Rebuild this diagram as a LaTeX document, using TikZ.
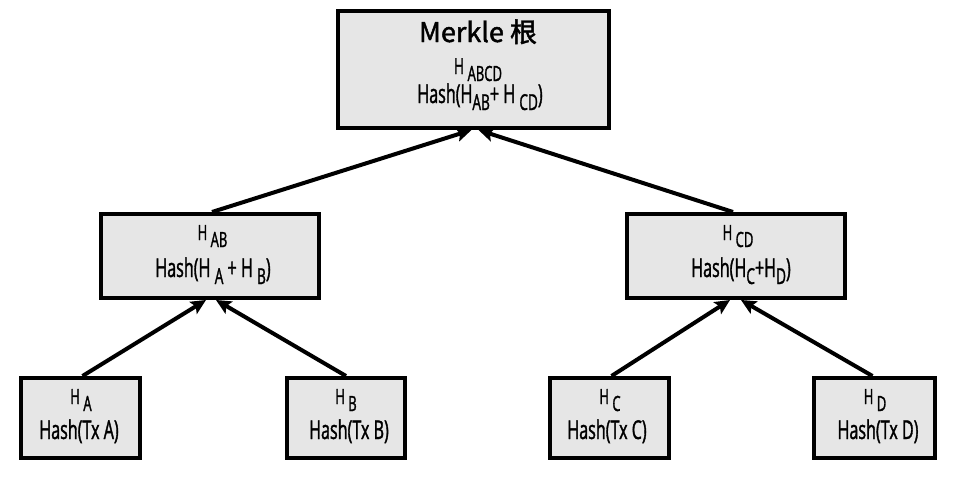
\documentclass[tikz,border=0pt]{standalone}
\usepackage{fontspec}
\setmainfont{Open Sans}[FakeStretch=0.62,FakeBold=1.3]
\newfontfamily\cjk{Noto Sans CJK SC}[FakeBold=1.6]
\usetikzlibrary{arrows.meta}
\definecolor{boxgray}{RGB}{230,230,230}
\newcommand{\sbs}[1]{\raisebox{-7pt}{\fontsize{21}{23}\selectfont #1}}
\newcommand{\sbt}[1]{\raisebox{-7pt}{\fontsize{22}{24}\selectfont #1}}
\tikzset{
  hbox/.style={draw, line width=4pt, fill=boxgray, inner sep=0pt},
  arr/.style={line width=4pt, -{Stealth[length=15pt,width=14pt,inset=3pt]}},
  lone/.style={anchor=base, inner sep=0pt, font=\fontsize{21}{23}\selectfont},
  ltwo/.style={anchor=base, inner sep=0pt, font=\fontsize{26}{28}\selectfont},
}
\begin{document}
\begin{tikzpicture}[x=1pt,y=-1pt]
\useasboundingbox (0,0) rectangle (956,479);
% boxes
\node[hbox, minimum width=271pt, minimum height=117pt] (root) at (473.5,69.5) {};
\node[hbox, minimum width=218pt, minimum height=84pt] (AB) at (210,256) {};
\node[hbox, minimum width=218pt, minimum height=84pt] (CD) at (736,256) {};
\node[hbox, minimum width=119pt, minimum height=80pt] (HA) at (80.5,418) {};
\node[hbox, minimum width=118pt, minimum height=80pt] (HB) at (346,418) {};
\node[hbox, minimum width=119pt, minimum height=80pt] (HC) at (609.5,418) {};
\node[hbox, minimum width=121pt, minimum height=80pt] (HD) at (874.5,418) {};
% texts
\node[anchor=base, inner sep=0pt, font=\cjk\fontsize{27}{29}\selectfont] (t0) at (478,42) {Merkle 根};
\node[lone, font=\fontsize{22}{24}\selectfont] (t0a) at (478,74) {H \sbs{ABCD}};
\node[ltwo] (t0b) at (480,103) {Hash(H\sbt{AB}+ H \sbt{CD})};
\node[lone] (t1a) at (212.5,240) {H \sbs{AB}};
\node[ltwo] (t1b) at (213,277) {Hash(H\,\sbt{A} + H \sbt{B})};
\node[lone] (t2a) at (738,240) {H \sbs{CD}};
\node[ltwo] (t2b) at (741,277) {Hash(H\sbt{C}+H\sbt{D})};
\node[lone] (t3a) at (81,404) {H \sbs{A}};
\node[ltwo] (t3b) at (79,439) {Hash(Tx A)};
\node[lone] (t4a) at (346,404) {H \sbs{B}};
\node[ltwo] (t4b) at (349,439) {Hash(Tx B)};
\node[lone] (t5a) at (610,404) {H \sbs{C}};
\node[ltwo] (t5b) at (607,439) {Hash(Tx C)};
\node[lone] (t6a) at (875,404) {H \sbs{D}};
\node[ltwo] (t6b) at (878,439) {Hash(Tx D)};
% arrows
\draw[arr] ([xshift=2pt]HA.north) -- ([xshift=-4pt]AB.south);
\draw[arr] (HB.north) -- ([xshift=6pt]AB.south);
\draw[arr] ([xshift=2pt]HC.north) -- ([xshift=-6pt]CD.south);
\draw[arr] ([xshift=-2pt]HD.north) -- ([xshift=5pt]CD.south);
\draw[arr] ([xshift=2pt]AB.north) -- ([xshift=-2pt]root.south);
\draw[arr] ([xshift=-3pt]CD.north) -- ([xshift=5pt]root.south);
\end{tikzpicture}
\end{document}
